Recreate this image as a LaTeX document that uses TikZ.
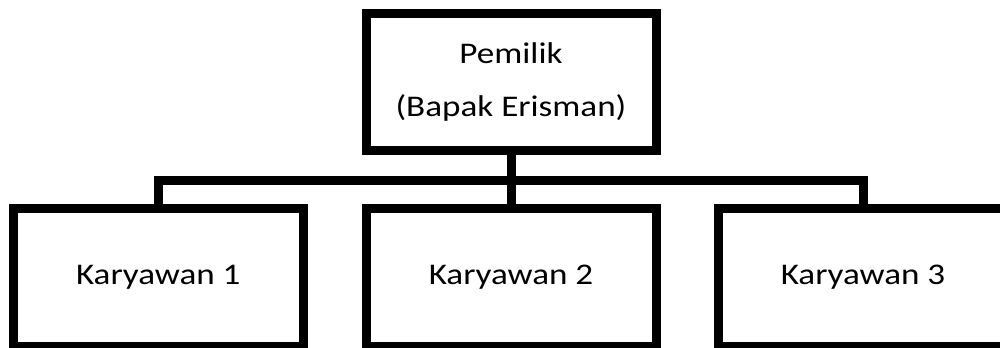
\documentclass[tikz,border=0pt]{standalone}
\usepackage{fontspec}
\setmainfont{Carlito}[FakeStretch=1.17]
\tikzset{
	orgbox/.style={draw, inner sep=0pt, minimum width=217.5pt, minimum height=103.5pt, align=center}
}
\begin{document}
\begin{tikzpicture}[x=0.75pt, y=-0.75pt, line width=6.75pt, font=\fontsize{22.5}{39.5}\selectfont]
	\useasboundingbox (0,0) rectangle (1000,347);
	\clip (0,0) rectangle (1000,347);
	\node[orgbox, minimum height=102.75pt] (pemilik) at (511,82) {Pemilik\\(Bapak Erisman)};
	\foreach \i/\x in {1/158.25,2/511,3/863}
	\node[orgbox] (k\i) at (\x,277.5) {Karyawan \i};
	\coordinate (bus) at (511,180.5);
	\draw (pemilik.south) -- (k2.north);
	\draw (k1.north) |- (bus) -| (k3.north);
\end{tikzpicture}
\end{document}
